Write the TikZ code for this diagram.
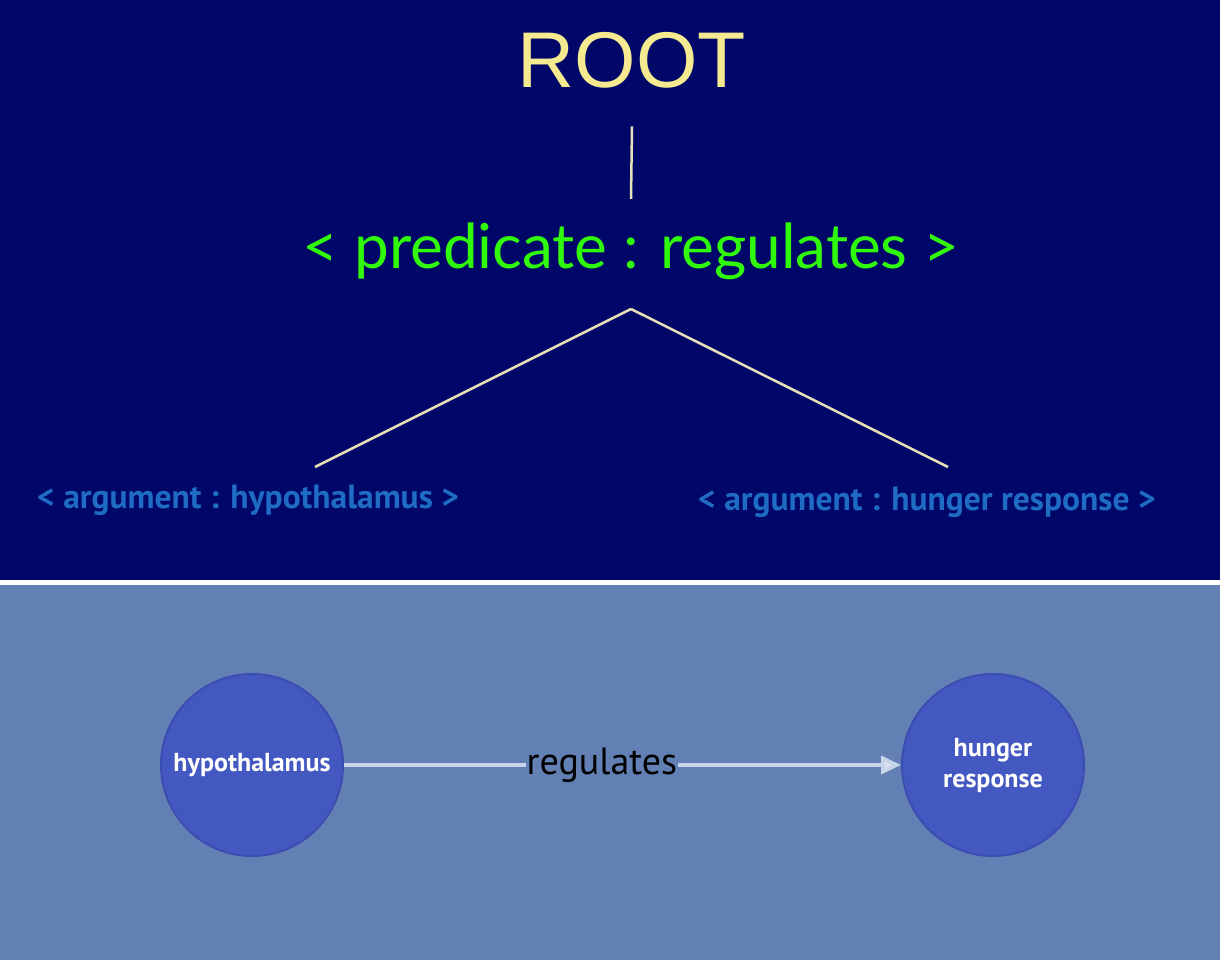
\documentclass[tikz,border=0pt]{standalone}
\usepackage{fontspec}
\setmainfont{Liberation Sans}
\newfontfamily\rootfont{Liberation Sans}
\newfontfamily\predfont{Lato}
\newfontfamily\dinfont{PT Sans}
\usetikzlibrary{arrows.meta}
\definecolor{navybg}{RGB}{1,7,104}
\definecolor{lowbg}{RGB}{99,128,180}
\definecolor{rootyellow}{RGB}{245,234,144}
\definecolor{predgreen}{RGB}{48,250,10}
\definecolor{argblue}{RGB}{31,108,196}
\definecolor{treecol}{RGB}{232,224,184}
\definecolor{circfill}{RGB}{68,88,193}
\definecolor{circdraw}{RGB}{58,78,178}
\definecolor{edgecol}{RGB}{200,212,232}
\tikzset{
  treeline/.style={draw=treecol, line width=2.5pt},
  argtext/.style={text=argblue, anchor=base west, inner sep=0pt, font=\dinfont\bfseries\fontsize{33.5}{33.5}\selectfont},
  concept/.style={circle, minimum size=182pt, inner sep=0pt, fill=circfill, draw=circdraw, line width=2pt,
     text=white, align=center, font=\dinfont\bfseries\fontsize{26}{31}\selectfont},
  relation/.style={draw=edgecol, line width=4pt, -{Triangle[length=20pt,width=18pt,fill=edgecol!60!white]}},
}
\begin{document}
\begin{tikzpicture}[x=1pt,y=-1pt]
\useasboundingbox (0,0) rectangle (1220,960);
\fill[navybg] (0,0) rectangle (1220,582);
\fill[white] (0,580) rectangle (1220,585);
\fill[lowbg] (0,585) rectangle (1220,960);

\node[font=\rootfont\fontsize{79}{79}\selectfont, text=rootyellow, anchor=base] (root) at (632,88) {ROOT};
\node[font=\predfont\fontsize{62}{62}\selectfont, text=predgreen, anchor=base] (pred) at (631,268) {< predicate : regulates >};
\draw[treeline] ([yshift=-34pt]root.south) -- ([yshift=20pt]pred.north);

\node[argtext] (argL) at (37,508) {< argument : hypothalamus >};
\node[argtext] (argR) at (698,510) {< argument : hunger response >};
\coordinate (fork) at (631,309);
\coordinate (endL) at (315,467);
\coordinate (endR) at (948,467);
\draw[treeline] (fork) -- (endL);
\draw[treeline] (fork) -- (endR);

\node[concept] (hyp) at (252,765) {hypothalamus};
\node[concept] (hun) at (993,765) {hunger\\response};
\draw[relation] (hyp) -- (hun) node[pos=0.463, fill=lowbg, inner sep=1pt, text=black, font=\dinfont\fontsize{38}{38}\selectfont] (lbl) {regulates};
\end{tikzpicture}
\end{document}
